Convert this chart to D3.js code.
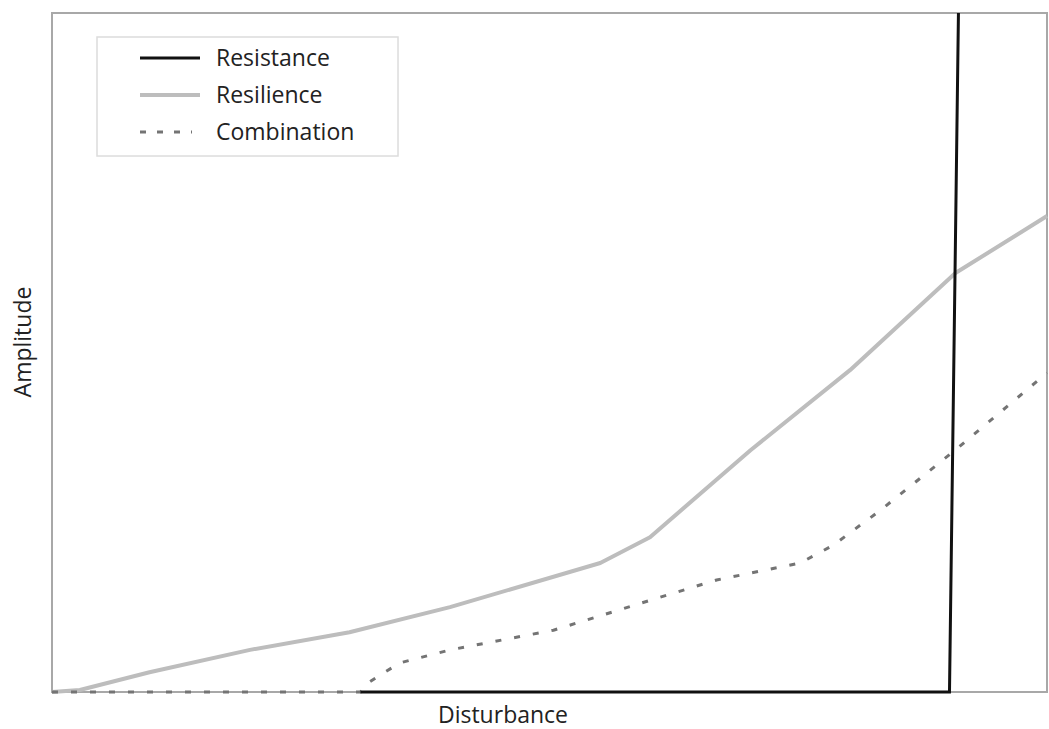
<!DOCTYPE html>
<html><head><meta charset="utf-8">
<script src="https://cdn.jsdelivr.net/npm/d3@7"></script>
<style>body{margin:0;background:#fff}svg{display:block}</style>
</head><body>
<svg id="c" width="1049" height="729"></svg>
<script>
const seriesNames = ["Resistance", "Resilience", "Combination"];
const resistanceX = [31.0, 90.2, 91.1];
const resistanceY = [0, 0, 100];
const resilienceX = [0, 2.8, 9.8, 19.9, 29.9, 40.0, 55.1, 60.1, 70.2, 80.2, 90.8, 100];
const resilienceY = [0, 0.3, 2.9, 6.2, 8.8, 12.5, 19.0, 22.8, 35.6, 47.4, 61.7, 70.1];
const combinationX = [0, 31.0, 31.7, 33.3, 35.0, 40.0, 50.4, 60.1, 66.8, 75.2, 78.5, 83.2, 91.0, 100];
const combinationY = [0, 0, 1.3, 2.8, 4.3, 6.2, 9.1, 13.5, 16.5, 19.0, 21.6, 26.7, 35.9, 47.0];
const xLabel = "Disturbance";
const yLabel = "Amplitude";

const svg = d3.select("#c");
const m = {left: 52, right: 1047, top: 13, bottom: 692};
const x = d3.scaleLinear().domain([0, 100]).range([m.left, m.right]);
const y = d3.scaleLinear().domain([0, 100]).range([m.bottom, m.top]);
const font = "'Open Sans', 'Noto Sans', sans-serif";

// frame
svg.append("rect").attr("x", m.left).attr("y", m.top)
  .attr("width", m.right - m.left).attr("height", m.bottom - m.top)
  .attr("fill", "none").attr("stroke", "#a8a8a8").attr("stroke-width", 2);

const line = d3.line().x(d => x(d[0])).y(d => y(d[1]));
const zip = (a, b) => a.map((v, i) => [v, b[i]]);

svg.append("path").datum(zip(resilienceX, resilienceY)).attr("d", line)
  .attr("fill", "none").attr("stroke", "#bdbdbd").attr("stroke-width", 4)
  .attr("stroke-linejoin", "round");
svg.append("path").datum(zip(combinationX, combinationY)).attr("d", line)
  .attr("fill", "none").attr("stroke", "#747474").attr("stroke-width", 3)
  .attr("stroke-dasharray", "6,13");
svg.append("path").datum(zip(resistanceX, resistanceY)).attr("d", line)
  .attr("fill", "none").attr("stroke", "#111").attr("stroke-width", 3);

// legend
const lg = svg.append("g");
lg.append("rect").attr("x", 97).attr("y", 37).attr("width", 301).attr("height", 119)
  .attr("fill", "#fff").attr("stroke", "#dcdcdc").attr("stroke-width", 1.5);
const lstyles = [
  {stroke: "#111", w: 3, dash: null, x2: 200},
  {stroke: "#bdbdbd", w: 4, dash: null, x2: 200},
  {stroke: "#747474", w: 3, dash: "6,11", x2: 192}
];
seriesNames.forEach((n, i) => {
  const yy = 58 + i * 37;
  lg.append("line").attr("x1", 140).attr("x2", lstyles[i].x2).attr("y1", yy).attr("y2", yy)
    .attr("stroke", lstyles[i].stroke).attr("stroke-width", lstyles[i].w)
    .attr("stroke-dasharray", lstyles[i].dash);
  lg.append("text").attr("x", 216).attr("y", yy + 8).text(n)
    .attr("font-family", font).attr("font-size", 23).attr("fill", "#222");
});

svg.append("text").attr("x", 503).attr("y", 723).attr("text-anchor", "middle")
  .attr("font-family", font).attr("font-size", 23).attr("fill", "#222").text(xLabel);
svg.append("text").attr("transform", "translate(31,342) rotate(-90)").attr("text-anchor", "middle")
  .attr("font-family", font).attr("font-size", 23).attr("fill", "#222").text(yLabel);
</script>
</body></html>
